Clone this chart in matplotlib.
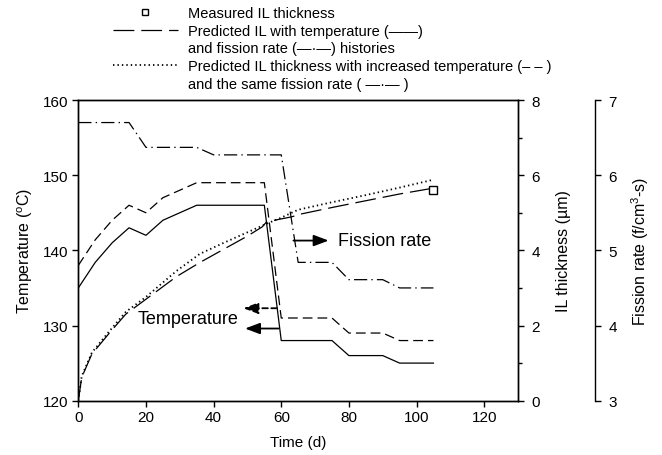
import matplotlib
matplotlib.use("Agg")
import matplotlib.pyplot as plt
from matplotlib.lines import Line2D

plt.rcParams['font.family'] = ['Liberation Sans', 'DejaVu Sans']
plt.rcParams['mathtext.default'] = 'regular'
plt.rcParams['lines.scale_dashes'] = False

# ---- data ----
days_T = [0, 5, 10, 15, 20, 25, 35, 55, 60, 75, 80, 90, 95, 105]
temp = [135, 138.4, 141, 143, 142, 144, 146, 146, 128, 128, 126, 126, 125, 125]
temp_inc = [138, 141.4, 144, 146, 145, 147, 149, 149, 131, 131, 129, 129, 128, 128]

days_F = [0, 15, 20, 35, 40, 60, 65, 75, 80, 90, 95, 105]
fission = [6.70, 6.70, 6.37, 6.37, 6.27, 6.27, 4.84, 4.84, 4.61, 4.61, 4.50, 4.50]

days_IL = [0, 1, 4, 9, 14, 20, 29, 36, 43, 50, 54.3, 55.7, 63, 66, 75, 85, 95, 104]
il_pred = [0, 0.62, 1.24, 1.78, 2.30, 2.70, 3.30, 3.68, 4.03, 4.38, 4.62, 4.76, 4.89, 4.97, 5.14, 5.32, 5.50, 5.64]

days_IL2 = [0, 1, 4, 9, 14, 20, 29, 36, 43, 50, 56, 60, 65, 75, 85, 95, 105]
il_inc = [0, 0.65, 1.28, 1.83, 2.36, 2.76, 3.45, 3.91, 4.20, 4.48, 4.72, 4.87, 5.08, 5.28, 5.47, 5.67, 5.88]

meas_day = [105]
meas_il = [5.6]

x_ticks = [0, 20, 40, 60, 80, 100, 120]
t_ticks = [120, 130, 140, 150, 160]
il_ticks = [0, 2, 4, 6, 8]
f_ticks = [3, 4, 5, 6, 7]

# ---- figure ----
fig = plt.figure(figsize=(6.62, 4.56), dpi=100)
ax = fig.add_axes([0.1183, 0.1191, 0.6642, 0.6594])
ax2 = ax.twinx()
ax3 = ax.twinx()
ax3.spines['right'].set_position(('axes', 1.175))
for s in ['top', 'left', 'bottom']:
    ax3.spines[s].set_visible(False)

lw = 0.9
ax.plot(days_T, temp, color='black', lw=lw, ls='-')
ax.plot(days_T, temp_inc, color='black', lw=lw, ls=(0, (7, 3.6)))
ax3.plot(days_F, fission, color='black', lw=lw, ls=(0, (9.5, 3, 1, 3)))
ax2.plot(days_IL, il_pred, color='black', lw=lw, ls=(0, (15, 5)))
ax2.plot(days_IL2, il_inc, color='black', lw=1.3, ls=(0, (1, 2.2)))
ax2.plot(meas_day, meas_il, ls='none', marker='s', ms=6, mfc='white', mec='black', mew=1)

ax.set_xlim(0, 130)
ax.set_ylim(120, 160)
ax2.set_ylim(0, 8)
ax3.set_ylim(3, 7)
ax.set_xticks(x_ticks)
ax.set_yticks(t_ticks)
ax2.set_yticks(il_ticks)
ax2.set_yticks([1, 3, 5, 7], minor=True)
ax3.set_yticks(f_ticks)

for a in (ax, ax2, ax3):
    for s in a.spines.values():
        s.set_linewidth(1.0)

ax.tick_params(direction='out', length=4.5, width=1.0, labelsize=11, pad=2.5)
ax2.tick_params(axis='y', which='major', direction='out', length=4.5, width=1.0, labelsize=11, pad=5)
ax2.tick_params(axis='y', which='minor', direction='out', length=3, width=1.0)
ax3.tick_params(axis='y', direction='out', length=4.5, width=1.0, labelsize=11, pad=5)

ax.set_xlabel('Time (d)', fontsize=11, labelpad=7.5)
ax.set_ylabel('Temperature ($^{o}$C)', fontsize=11.5, labelpad=6)
ax2.set_ylabel('IL thickness (µm)', fontsize=11.5, labelpad=12)
ax3.set_ylabel('Fission rate (f/cm$^{3}$-s)', fontsize=11.5, labelpad=9)

# annotations
ax.annotate('', xy=(74.0, 141.3), xytext=(63.6, 141.3),
            arrowprops=dict(arrowstyle='-|>,head_length=0.45,head_width=0.17',
                            color='black', lw=1.3, shrinkA=0, shrinkB=0, mutation_scale=20))
ax.text(76.9, 141.3, 'Fission rate', fontsize=13, va='center', ha='left')
ax.text(17.6, 130.9, 'Temperature', fontsize=13, va='center', ha='left')
ax.annotate('', xy=(48.8, 132.3), xytext=(58.7, 132.3),
            arrowprops=dict(arrowstyle='-|>,head_length=0.45,head_width=0.17',
                            color='black', lw=1.3, ls=(0, (4, 2.5)), shrinkA=0, shrinkB=0,
                            mutation_scale=20))
ax.annotate('', xy=(49.3, 129.6), xytext=(59.2, 129.6),
            arrowprops=dict(arrowstyle='-|>,head_length=0.45,head_width=0.17',
                            color='black', lw=1.3, shrinkA=0, shrinkB=0, mutation_scale=20))

# legend
handles = [
    Line2D([], [], ls='none', marker='s', ms=5, mfc='white', mec='black', mew=1),
    Line2D([], [], color='black', lw=lw, ls=(0, (15, 5))),
    Line2D([], [], ls='none'),
    Line2D([], [], color='black', lw=1.3, ls=(0, (1, 2.2))),
    Line2D([], [], ls='none'),
]
labels = [
    'Measured IL thickness',
    'Predicted IL with temperature (——)',
    'and fission rate (—·—) histories',
    'Predicted IL thickness with increased temperature (– – )',
    'and the same fission rate ( —·— )',
]
fig.legend(handles, labels, loc='upper left', bbox_to_anchor=(113 / 662, 1 - 7 / 456),
           frameon=False, fontsize=10.5, handlelength=4.45, handletextpad=0.7,
           labelspacing=0.25, borderpad=0, borderaxespad=0)

fig.savefig('out.png', dpi=100)
